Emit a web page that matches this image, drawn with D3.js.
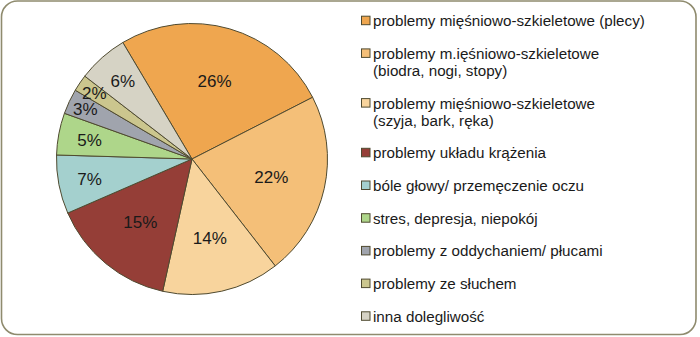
<!DOCTYPE html>
<html>
<head>
<meta charset="utf-8">
<script src="https://cdn.jsdelivr.net/npm/d3@7"></script>
<style>
  html, body { margin: 0; padding: 0; background: #fff; }
  svg { display: block; font-family: "Liberation Sans", Arial, sans-serif; }
</style>
</head>
<body>
<svg id="chart" width="700" height="337"></svg>
<script>
// ---- data ----
const categories = [
  ["problemy mięśniowo-szkieletowe (plecy)"],
  ["problemy m.ięśniowo-szkieletowe", "(biodra, nogi, stopy)"],
  ["problemy mięśniowo-szkieletowe", "(szyja, bark, ręka)"],
  ["problemy układu krążenia"],
  ["bóle głowy/ przemęczenie oczu"],
  ["stres, depresja, niepokój"],
  ["problemy z oddychaniem/ płucami"],
  ["problemy ze słuchem"],
  ["inna dolegliwość"]
];
const values = [26, 22, 14, 15, 7, 5, 3, 2, 6];
const colors = ["#EFA64F", "#F4BF78", "#F8D49D", "#953E37", "#A4D0CE", "#AED68A", "#A0A4AD", "#CBC68E", "#D6D3C5"];

// ---- layout ----
const svg = d3.select("#chart");

svg.append("rect")
  .attr("x", 1.5).attr("y", 1).attr("width", 694.5).attr("height", 333.5)
  .attr("rx", 16).attr("ry", 16)
  .attr("fill", "#fff").attr("stroke", "#8f8b6e").attr("stroke-width", 1.6);

const cx = 192, cy = 159, r = 135.5;
const total = d3.sum(values);
const offset = -30.7 * Math.PI / 180;

const pie = d3.pie().sort(null).value(d => d)
  .startAngle(offset).endAngle(offset + 2 * Math.PI);
const arcs = pie(values);
const arc = d3.arc().innerRadius(0).outerRadius(r);

const g = svg.append("g").attr("transform", `translate(${cx},${cy})`);
g.selectAll("path.slice").data(arcs).enter().append("path")
  .attr("class", "slice")
  .attr("d", arc)
  .attr("fill", (d, i) => colors[i])
  .attr("stroke", "#4f4a30")
  .attr("stroke-width", 1)
  .attr("stroke-linejoin", "round");

function labelRadius(v) {
  if (v >= 10) return r * 0.6;
  if (v >= 5) return r * 0.77;
  return r * 0.87;
}
g.selectAll("text.lbl").data(arcs).enter().append("text")
  .attr("class", "lbl")
  .attr("transform", d => {
    const lr = labelRadius(d.data);
    const c = d3.arc().innerRadius(lr).outerRadius(lr).centroid(d);
    return `translate(${c[0]},${c[1]})`;
  })
  .attr("text-anchor", "middle")
  .attr("dy", "0.36em")
  .attr("font-size", 17)
  .attr("fill", "#1a1a1a")
  .text(d => Math.round(d.data / total * 100) + "%");

// ---- legend ----
const lineH = 17, step = 32.7;
const lg = svg.append("g");
let y = 20.7;
categories.forEach((lines, i) => {
  const item = lg.append("g");
  item.append("rect")
    .attr("x", 361.5).attr("y", y - 4.5).attr("width", 8.5).attr("height", 8.5)
    .attr("fill", colors[i]).attr("stroke", "#4f4a30").attr("stroke-width", 1);
  lines.forEach((t, j) => {
    item.append("text")
      .attr("x", 373).attr("y", y + j * lineH)
      .attr("dy", "0.36em")
      .attr("font-size", 15.2)
      .attr("fill", "#1a1a1a")
      .text(t);
  });
  y += (lines.length - 1) * lineH + step;
});
</script>
</body>
</html>
